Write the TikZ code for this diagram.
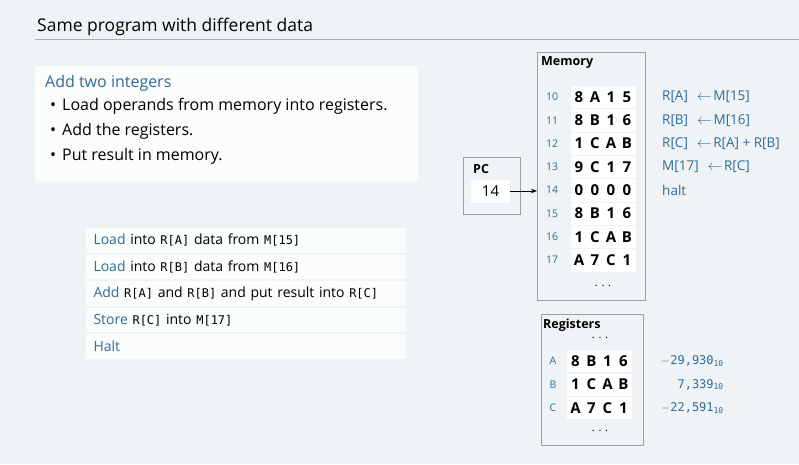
\documentclass[tikz,border=0pt]{standalone}
\usepackage{fontspec}
\setmainfont{Open Sans}
\newfontfamily\codefont{DejaVu Sans Mono}
\usetikzlibrary{positioning,arrows.meta}
\definecolor{bgcol}{HTML}{EFF3F5}
\definecolor{boxcol}{HTML}{FBFCFC}
\definecolor{opblue}{HTML}{2F6B99}
\definecolor{rulegray}{HTML}{A8ADB0}
\newcommand{\hexw}[4]{\makebox[16pt]{#1}\makebox[16pt]{#2}\makebox[16pt]{#3}\makebox[16pt]{#4}}
\newcommand{\cd}[1]{{\fontsize{12}{12}\codefont #1}}
\newcommand{\getsto}{\hspace{9pt}$\leftarrow$\hspace{2pt}}
\tikzset{
  panel/.style={draw=gray!75, fill=bgcol, line width=0.8pt},
  word/.style={fill=white, draw=bgcol, minimum width=66pt, minimum height=23.3pt, inner sep=0pt,
    font=\fontsize{15}{15}\selectfont\bfseries},
  addr/.style={text=opblue, font=\fontsize{10.5}{10.5}\selectfont},
  note/.style={text=opblue, anchor=west, inner sep=0pt, font=\fontsize{13.5}{13.5}\selectfont},
  instr/.style={fill=boxcol, draw=bgcol, line width=1pt, minimum width=321pt, minimum height=25.6pt,
    anchor=north west, inner xsep=8pt, text width=305pt, align=left, font=\fontsize{14}{14}\selectfont},
  boxtitle/.style={anchor=west, inner sep=0pt, font=\fontsize{12.5}{12.5}\selectfont\bfseries},
  dots/.style={inner sep=0pt, font=\fontsize{11}{11}\selectfont},
  regval/.style={text=opblue, anchor=east, inner sep=0pt, font=\fontsize{12}{12}\codefont}
}
\begin{document}
\begin{tikzpicture}[x=1pt,y=-1pt]
    \fill[bgcol] (0,0) rectangle (799,464);
    \useasboundingbox (0,0) rectangle (799,464);
    % title
    \node[anchor=base west, inner sep=0pt, font=\fontsize{17.5}{17.5}\selectfont] (title) at (37,31)
        {Same program with different data};
    \draw[rulegray, line width=0.8pt] (35,39) -- (799,39);
    % description
    \fill[boxcol] (35,66) rectangle (418,181);
    \node[anchor=west, inner sep=0pt, text=opblue, font=\fontsize{16}{16}\selectfont] (head) at (45,83)
        {Add two integers};
    \foreach \t [count=\i] in {Load operands from memory into registers.,
                               Add the registers., Put result in memory.} {
        \node[anchor=west, inner sep=0pt, font=\fontsize{16}{16}\selectfont] (bul\i) at (50,81+25*\i)
            {\textbullet\hspace{6pt}\t};
    }
    % instructions
    \node[instr] (ins1) at (85,227) {\textcolor{opblue}{Load} into \cd{R[A]} data from \cd{M[15]}};
    \node[instr, below=0pt of ins1] (ins2) {\textcolor{opblue}{Load} into \cd{R[B]} data from \cd{M[16]}};
    \node[instr, below=0pt of ins2] (ins3) {\textcolor{opblue}{Add} \cd{R[A]} and \cd{R[B]} and put result into \cd{R[C]}};
    \node[instr, below=0pt of ins3] (ins4) {\textcolor{opblue}{Store} \cd{R[C]} into \cd{M[17]}};
    \node[instr, below=0pt of ins4] (ins5) {\textcolor{opblue}{Halt}};
    % memory
    \node[panel, anchor=north west, minimum width=108pt, minimum height=248pt] (memory) at (537,52) {};
    \node[boxtitle] (memtitle) at (541,63) {Memory};
    \foreach \a/\w [count=\i from 0] in {10/8A15, 11/8B16, 12/1CAB, 13/9C17,
                                        14/0000, 15/8B16, 16/1CAB, 17/A7C1} {
        \node[word] (mem\a) at (603,97+23.3*\i) {\expandafter\hexw\w};
        \node[addr] (addr\a) at (552,97+23.3*\i) {\a};
    }
    \node[dots] (memdots) at (603,286) {.\,\,.\,\,.};
    \node[note] (note10) at (662,97) {R[A]\getsto M[15]};
    \node[note] (note11) at (662,120.3) {R[B]\getsto M[16]};
    \node[note] (note12) at (662,143.6) {R[C]\getsto R[A] + R[B]};
    \node[note] (note13) at (662,166.9) {M[17]\getsto R[C]};
    \node[note] (note14) at (662,190.2) {halt};
    % program counter
    \node[panel, anchor=north west, minimum width=57pt, minimum height=57pt] (pc) at (463,157) {};
    \node[boxtitle] (pctitle) at (473,169) {PC};
    \node[fill=white, minimum width=39pt, minimum height=23pt, inner sep=0pt,
          font=\fontsize{15}{15}\selectfont] (pcval) at (490.5,191) {14};
    \draw[-{Stealth[length=6pt]}, line width=1pt] (pcval.east) -- (pcval.east -| memory.west);
    % registers
    \node[panel, anchor=north west, minimum width=102pt, minimum height=131pt] (regs) at (541,314) {};
    \node[boxtitle] (regtitle) at (543,325) {Registers};
    \node[dots] (regdots1) at (600,338) {.\,\,.\,\,.};
    \foreach \r/\w/\v [count=\i from 0] in {A/8B16/$-$29{,}930, B/1CAB/7{,}339, C/A7C1/$-$22{,}591} {
        \node[word] (reg\r) at (599.5,361+23.5*\i) {\expandafter\hexw\w};
        \node[addr] (lab\r) at (553,361+23.5*\i) {\r};
        \node[regval] (val\r) at (724,361+23.5*\i) {\v\textsubscript{10}};
    }
    \node[dots] (regdots2) at (600,431) {.\,\,.\,\,.};
\end{tikzpicture}
\end{document}
